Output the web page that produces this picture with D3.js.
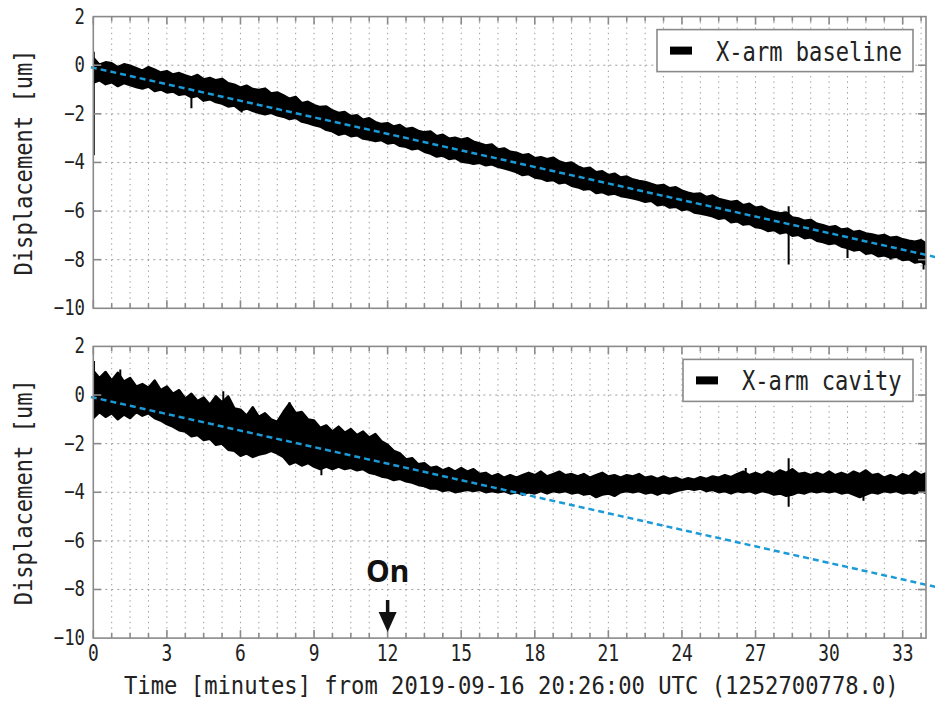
<!DOCTYPE html>
<html><head><meta charset="utf-8">
<script src="https://cdn.jsdelivr.net/npm/d3@7"></script>
<style>body{margin:0;background:#fff}svg{display:block}</style>
</head><body><svg id="c" width="935" height="702"></svg>
<script>
// ---------------- data (one row per minute, 0.25 min steps) ----------------
const timeMin = [
0,0.25,0.5,0.75, 1,1.25,1.5,1.75, 2,2.25,2.5,2.75, 3,3.25,3.5,3.75, 4,4.25,4.5,4.75,
5,5.25,5.5,5.75, 6,6.25,6.5,6.75, 7,7.25,7.5,7.75, 8,8.25,8.5,8.75, 9,9.25,9.5,9.75,
10,10.25,10.5,10.75, 11,11.25,11.5,11.75, 12,12.25,12.5,12.75, 13,13.25,13.5,13.75, 14,14.25,14.5,14.75,
15,15.25,15.5,15.75, 16,16.25,16.5,16.75, 17,17.25,17.5,17.75, 18,18.25,18.5,18.75, 19,19.25,19.5,19.75,
20,20.25,20.5,20.75, 21,21.25,21.5,21.75, 22,22.25,22.5,22.75, 23,23.25,23.5,23.75, 24,24.25,24.5,24.75,
25,25.25,25.5,25.75, 26,26.25,26.5,26.75, 27,27.25,27.5,27.75, 28,28.25,28.5,28.75, 29,29.25,29.5,29.75,
30,30.25,30.5,30.75, 31,31.25,31.5,31.75, 32,32.25,32.5,32.75, 33,33.25,33.5,33.75, 34];
const baselineHi = [
0.30,0.02,0.12,0.08, -0.08,0.04,-0.02,-0.12, -0.22,-0.08,-0.18,-0.30, -0.24,-0.38,-0.32,-0.42, -0.50,-0.40,-0.58,-0.52,
-0.62,-0.56,-0.74,-0.80, -0.92,-0.84,-0.98,-1.02, -0.96,-1.16,-1.12,-1.24, -1.38,-1.30,-1.56,-1.50, -1.64,-1.72,-1.70,-1.86,
-1.96,-1.92,-2.10,-2.06, -2.24,-2.18,-2.34,-2.42, -2.38,-2.52,-2.46,-2.62, -2.58,-2.70,-2.76,-2.72, -2.92,-2.86,-3.02,-2.98,
-3.06,-3.00,-3.14,-3.22, -3.30,-3.26,-3.46,-3.42, -3.56,-3.60,-3.70,-3.66, -3.82,-3.78,-3.86,-3.80, -3.96,-4.04,-4.00,-4.16,
-4.26,-4.22,-4.40,-4.36, -4.52,-4.46,-4.62,-4.58, -4.70,-4.76,-4.80,-4.88, -4.96,-4.92,-5.06,-5.02, -5.16,-5.24,-5.30,-5.28,
-5.42,-5.36,-5.50,-5.56, -5.62,-5.58,-5.76,-5.70, -5.86,-5.82,-5.96,-6.04, -6.10,-6.06,-6.26,-6.30, -6.40,-6.36,-6.52,-6.58,
-6.66,-6.62,-6.76,-6.72, -6.86,-6.82,-6.92,-6.96, -7.02,-6.98,-7.10,-7.06, -7.16,-7.22,-7.26,-7.20, -7.36];
const baselineLo = [
-0.72,-0.62,-0.78,-0.70, -0.86,-0.74,-0.82,-0.90, -0.96,-0.88,-1.06,-1.00, -1.12,-1.08,-1.22,-1.18, -1.32,-1.26,-1.46,-1.40,
-1.52,-1.58,-1.70,-1.66, -1.86,-1.78,-1.88,-1.96, -2.02,-1.96,-2.06,-2.12, -2.22,-2.16,-2.32,-2.38, -2.46,-2.52,-2.66,-2.72,
-2.86,-2.80,-2.92,-2.88, -3.02,-3.06,-3.12,-3.08, -3.22,-3.18,-3.32,-3.36, -3.46,-3.42,-3.56,-3.64, -3.76,-3.72,-3.86,-3.82,
-3.96,-4.00,-4.06,-4.02, -4.12,-4.08,-4.18,-4.24, -4.32,-4.40,-4.52,-4.48, -4.62,-4.66,-4.76,-4.72, -4.86,-4.82,-4.96,-5.02,
-5.12,-5.08,-5.26,-5.22, -5.32,-5.28,-5.38,-5.42, -5.48,-5.54,-5.62,-5.58, -5.76,-5.72,-5.86,-5.82, -5.96,-5.92,-6.06,-6.10,
-6.16,-6.22,-6.32,-6.28, -6.46,-6.42,-6.56,-6.52, -6.66,-6.70,-6.82,-6.78, -6.92,-6.86,-7.02,-6.98, -7.12,-7.08,-7.22,-7.28,
-7.36,-7.32,-7.46,-7.52, -7.62,-7.58,-7.76,-7.72, -7.86,-7.82,-7.92,-7.88, -8.02,-7.98,-8.12,-8.08, -8.22];
const cavityHi = [
1.00,0.70,0.95,0.60, 0.92,0.55,0.70,0.35, 0.45,0.30,0.60,0.20, 0.35,0.05,0.20,-0.15, 0.05,-0.25,-0.10,-0.40,
-0.05,-0.30,-0.05,-0.55, -0.60,-0.85,-0.50,-0.90, -0.75,-1.00,-1.10,-0.70, -0.35,-0.75,-0.70,-1.00, -1.05,-1.35,-1.25,-1.50,
-1.30,-1.55,-1.40,-1.65, -1.50,-1.75,-1.60,-1.90, -2.05,-2.30,-2.40,-2.65, -2.60,-2.85,-2.80,-3.00, -2.95,-3.10,-3.00,-3.15,
-3.00,-3.15,-3.05,-3.25, -3.20,-3.35,-3.25,-3.40, -3.30,-3.40,-3.30,-3.20, -3.30,-3.15,-3.35,-3.25, -3.15,-3.30,-3.25,-3.35,
-3.25,-3.40,-3.30,-3.20, -3.35,-3.30,-3.40,-3.30, -3.35,-3.25,-3.40,-3.35, -3.45,-3.35,-3.45,-3.40, -3.50,-3.42,-3.48,-3.38,
-3.45,-3.35,-3.40,-3.30, -3.38,-3.25,-3.15,-3.30, -3.20,-3.30,-3.15,-3.25, -3.10,-3.20,-3.05,-3.25, -3.20,-3.30,-3.20,-3.30,
-3.15,-3.30,-3.20,-3.30, -3.15,-3.25,-3.10,-3.30, -3.25,-3.40,-3.30,-3.40, -3.25,-3.35,-3.15,-3.30, -3.20];
const cavityLo = [
-0.95,-0.70,-0.90,-0.75, -1.00,-0.80,-0.95,-0.70, -0.85,-0.75,-0.95,-1.05, -1.20,-1.30,-1.45,-1.50, -1.70,-1.65,-1.85,-1.80,
-2.05,-2.00,-2.25,-2.30, -2.50,-2.40,-2.55,-2.45, -2.40,-2.30,-2.40,-2.55, -2.85,-2.75,-2.90,-2.80, -2.95,-3.05,-2.95,-3.05,
-2.95,-3.05,-3.00,-3.10, -3.05,-3.20,-3.25,-3.35, -3.40,-3.50,-3.45,-3.55, -3.60,-3.70,-3.75,-3.85, -3.85,-3.95,-3.90,-4.00,
-3.95,-3.90,-3.95,-3.90, -4.00,-3.95,-4.00,-3.95, -4.05,-4.00,-4.10,-4.00, -4.05,-3.95,-4.05,-3.95, -4.00,-3.95,-4.05,-4.00,
-4.10,-4.05,-4.20,-4.10, -4.05,-4.15,-4.00,-3.95, -4.00,-3.95,-4.05,-4.00, -4.10,-4.00,-4.05,-3.95, -3.90,-3.85,-3.90,-3.85,
-3.95,-3.90,-4.00,-3.95, -4.05,-3.95,-4.00,-3.95, -4.05,-3.95,-4.00,-4.10, -4.05,-4.15,-4.10,-4.00, -4.05,-3.95,-4.00,-3.95,
-4.00,-3.95,-4.05,-4.00, -4.10,-4.20,-4.10,-4.00, -4.05,-3.95,-4.00,-3.95, -4.05,-4.00,-4.05,-3.95, -4.05];
// isolated spikes (glitches) visible in the traces
const baselineSpikeT  = [0.02, 4.0, 6.05, 28.35, 30.75, 32.5, 33.85];
const baselineSpikeHi = [0.55, -0.60, -0.95, -5.80, -6.80, -7.10, -7.30];
const baselineSpikeLo = [-3.70, -1.77, -1.95, -8.20, -7.93, -8.00, -8.40];
const cavitySpikeT  = [0.03, 1.1, 5.3, 8.0, 9.3, 26.6, 28.35, 31.4];
const cavitySpikeHi = [1.40, 1.05, 0.15, -0.30, -1.40, -3.00, -2.60, -3.20];
const cavitySpikeLo = [-0.75, -0.90, -2.10, -2.80, -3.30, -3.90, -4.60, -4.35];
// linear fit (blue dashed)
const fitT = [-0.1, 34.6];
const fitV = [-0.08, -7.95];
const xTicks = [0,3,6,9,12,15,18,21,24,27,30,33];
const yTicks = [2,0,-2,-4,-6,-8,-10];
const seriesNames = ["X-arm baseline", "X-arm cavity"];
const xLabel = "Time [minutes] from 2019-09-16 20:26:00 UTC (1252700778.0)";
const yLabel = "Displacement [um]";
const markerT = 12, markerText = "On";

// ---------------- layout ----------------
const svg = d3.select("#c");
const L = 93.3, R = 926;
const panels = [
  {top: 16.6, bottom: 308.3, hi: baselineHi, lo: baselineLo, sT: baselineSpikeT, sH: baselineSpikeHi, sL: baselineSpikeLo, name: seriesNames[0], legW: 256},
  {top: 346.4, bottom: 638.1, hi: cavityHi, lo: cavityLo, sT: cavitySpikeT, sH: cavitySpikeHi, sL: cavitySpikeLo, name: seriesNames[1], legW: 230}
];
const x = d3.scaleLinear().domain([0, 33.95]).range([L, R]);
const minorStep = 0.75;
const minorX = d3.range(minorStep, 33.95, minorStep);
const mono = "DejaVu Sans Mono";
const gridCol = "#a39a9a", frameCol = "#8a8a8a";
// condensed monospace look: smaller font stretched vertically
const condensed = (sel, size, stretch) => sel.attr("font-family", mono).attr("font-size", size).attr("fill", "#222");

panels.forEach((p, i) => {
  const y = d3.scaleLinear().domain([-10, 2]).range([p.bottom, p.top]);
  const g = svg.append("g");
  const clipId = "clip" + i;
  svg.append("clipPath").attr("id", clipId).append("rect")
    .attr("x", L).attr("y", p.top).attr("width", R - L).attr("height", p.bottom - p.top);

  // grid
  g.selectAll(".vg").data(minorX).join("line")
    .attr("x1", d => x(d)).attr("x2", d => x(d)).attr("y1", p.top).attr("y2", p.bottom)
    .attr("stroke", gridCol).attr("stroke-width", 1).attr("stroke-dasharray", "1.4,4");
  g.selectAll(".hg").data(yTicks.slice(1, -1)).join("line")
    .attr("x1", L).attr("x2", R).attr("y1", d => y(d)).attr("y2", d => y(d))
    .attr("stroke", gridCol).attr("stroke-width", 1).attr("stroke-dasharray", "2,4");

  // data band
  const area = d3.area().x((d, k) => x(timeMin[k])).y0((d, k) => y(p.lo[k])).y1((d, k) => y(p.hi[k]));
  const dg = g.append("g").attr("clip-path", `url(#${clipId})`);
  dg.append("path").datum(p.hi).attr("d", area).attr("fill", "#000").attr("stroke", "#000").attr("stroke-width", 2.4).attr("stroke-linejoin", "round");
  dg.selectAll(".sp").data(p.sT).join("line")
    .attr("x1", d => x(d)).attr("x2", d => x(d))
    .attr("y1", (d, k) => y(p.sH[k])).attr("y2", (d, k) => y(p.sL[k]))
    .attr("stroke", "#000").attr("stroke-width", 2);

  // fit line
  g.append("line")
    .attr("x1", x(fitT[0])).attr("y1", y(fitV[0])).attr("x2", x(fitT[1])).attr("y2", y(fitV[1]))
    .attr("stroke", "#1b9ad8").attr("stroke-width", 2.5).attr("stroke-dasharray", "6,4");

  // frame
  g.append("rect").attr("x", L).attr("y", p.top).attr("width", R - L).attr("height", p.bottom - p.top)
    .attr("fill", "none").attr("stroke", frameCol).attr("stroke-width", 1.6);

  // ticks (inward)
  const tickData = [...xTicks.map(v => ({v, len: 8})), ...minorX.filter(v => Math.abs(v / 3 - Math.round(v / 3)) > 1e-6).map(v => ({v, len: 5}))];
  [p.bottom, p.top].forEach((yy, s) => {
    g.selectAll(".xt" + s).data(tickData).join("line")
      .attr("x1", d => x(d.v)).attr("x2", d => x(d.v))
      .attr("y1", yy).attr("y2", d => s === 0 ? yy - d.len : yy + d.len)
      .attr("stroke", frameCol).attr("stroke-width", 1.6);
  });
  [L, R].forEach((xx, s) => {
    g.selectAll(".yt" + s).data(yTicks.slice(1, -1)).join("line")
      .attr("y1", d => y(d)).attr("y2", d => y(d))
      .attr("x1", xx).attr("x2", s === 0 ? xx + 8 : xx - 8)
      .attr("stroke", frameCol).attr("stroke-width", 1.6);
  });

  // y tick labels
  const fmt = d3.format("d");
  condensed(g.selectAll(".yl").data(yTicks).join("text"))
    .attr("font-size", 17.3)
    .attr("transform", d => `translate(85,${y(d) + 7}) scale(1,1.27)`)
    .attr("text-anchor", "end")
    .text(d => fmt(d));

  // y axis label
  const cy = (p.top + p.bottom) / 2;
  condensed(g.append("text"))
    .attr("font-size", 22.1)
    .attr("transform", `translate(32,${cy}) rotate(-90) scale(1,1.13)`)
    .attr("text-anchor", "middle")
    .text(yLabel);

  // legend
  const lx = 913 - p.legW, ly = p.top + 13;
  const lg = g.append("g").attr("transform", `translate(${lx},${ly})`);
  lg.append("rect").attr("width", p.legW).attr("height", 42).attr("fill", "#fff")
    .attr("stroke", "#8a8a8a").attr("stroke-width", 1.6);
  lg.append("rect").attr("x", 13).attr("y", 17).attr("width", 22).attr("height", 8).attr("fill", "#000");
  condensed(lg.append("text"))
    .attr("font-size", 22.1)
    .attr("transform", "translate(59,31) scale(1,1.18)")
    .text(p.name);

  if (i === 1) {
    // x tick labels
    condensed(g.selectAll(".xl").data(xTicks).join("text"))
      .attr("font-size", 17.9)
      .attr("transform", d => `translate(${x(d)},${p.bottom + 23}) scale(1,1.28)`)
      .attr("text-anchor", "middle")
      .text(d => String(d));
    // x axis label
    condensed(svg.append("text"))
      .attr("font-size", 22.2)
      .attr("transform", "translate(124,694) scale(1,1.15)")
      .text(xLabel);
    // "On" marker
    const mx = x(markerT);
    g.append("text").attr("x", mx).attr("y", 582).attr("text-anchor", "middle")
      .attr("font-family", "Noto Sans").attr("font-weight", "bold").attr("font-size", 30).attr("fill", "#111")
      .text(markerText);
    g.append("line").attr("x1", mx).attr("x2", mx).attr("y1", 600).attr("y2", 615)
      .attr("stroke", "#111").attr("stroke-width", 3.5);
    g.append("path").attr("d", `M${mx - 9},612 L${mx + 9},612 L${mx},632 Z`).attr("fill", "#111");
  }
});
</script></body></html>
